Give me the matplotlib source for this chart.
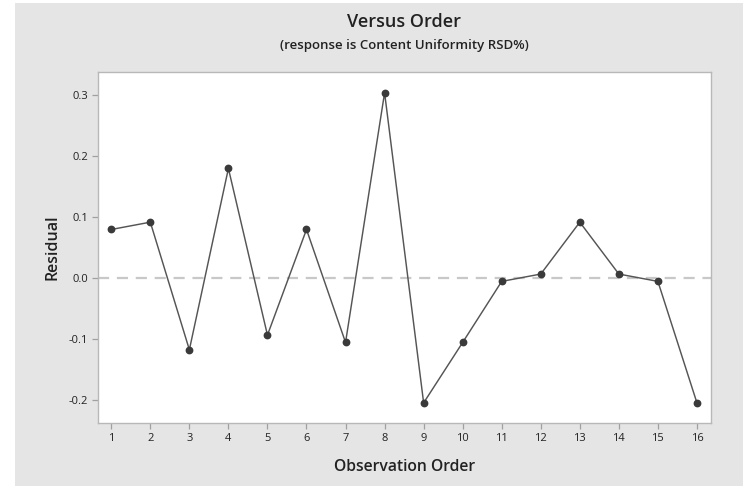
import matplotlib
matplotlib.use("Agg")
from matplotlib import pyplot as plt
from matplotlib.patches import Rectangle

# residuals
order = list(range(1, 17))
residual = [0.080, 0.092, -0.117, 0.180, -0.093, 0.080, -0.105, 0.304,
            -0.204, -0.105, -0.005, 0.007, 0.092, 0.007, -0.005, -0.204]
y_ticks = [-0.2, -0.1, 0.0, 0.1, 0.2, 0.3]

plt.rcParams['font.family'] = ['Open Sans', 'DejaVu Sans']

W, H = 743, 486
fig = plt.figure(figsize=(W / 100, H / 100), dpi=100)
fig.patch.set_facecolor("white")
fig.add_artist(Rectangle((15 / W, 0), 1 - 15 / W, 1 - 3 / H,
                         transform=fig.transFigure, facecolor="#e5e5e5",
                         edgecolor="none", zorder=-5))

ax = fig.add_axes([98 / W, 1 - 423 / H, (711 - 98) / W, (423 - 72) / H])
ax.set_zorder(2)
ax.set_facecolor("white")

ax.axhline(0, color="#c8c8c8", lw=1.6, ls=(0, (5, 3.5)), zorder=1)
ax.plot(order, residual, color="#555555", lw=1.05, zorder=2)
ax.plot(order, residual, "o", color="#3a3a3a", ms=4.6, zorder=3)

ax.set_xlim(0.66, 16.36)
ax.set_ylim(-0.237, 0.338)
ax.set_xticks(order)
ax.set_yticks(y_ticks)
ax.set_yticklabels([f"{v:.1f}" for v in y_ticks])

for s in ax.spines.values():
    s.set_color("#b8b8b8")
    s.set_linewidth(1.0)
ax.tick_params(axis="both", direction="out", length=4, width=0.9,
               color="#a0a0a0", labelsize=8, labelcolor="#222222", pad=3)

ax.set_xlabel("Observation Order", fontsize=11.3, fontweight="semibold",
              color="#222222", labelpad=11)
ax.set_ylabel("Residual", fontsize=11.5, fontweight="semibold",
              color="#222222", labelpad=6)

fig.text(404 / W, 1 - 22 / H, "Versus Order", ha="center", va="center",
         fontsize=13, fontweight="semibold", color="#222222")
fig.text(404 / W, 1 - 46 / H, "(response is Content Uniformity RSD%)",
         ha="center", va="center", fontsize=9.5, fontweight="semibold",
         color="#222222")

fig.savefig("out.png", dpi=100)
